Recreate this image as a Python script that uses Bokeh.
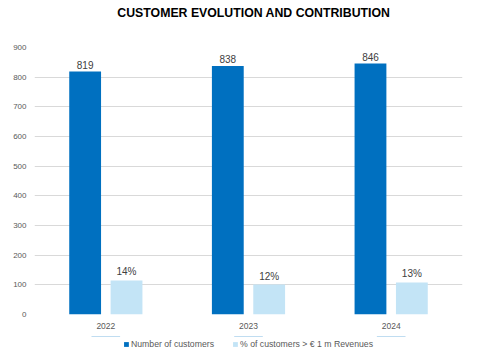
from bokeh.plotting import figure
from bokeh.layouts import column
from bokeh.models import (ColumnDataSource, FactorRange, Range1d, Legend, LegendItem, LabelSet,
                          Label, SingleIntervalTicker)
from bokeh.core.properties import value
from bokeh.transform import dodge
from bokeh.embed import file_html
from bokeh.resources import INLINE

title_text = "CUSTOMER EVOLUTION AND CONTRIBUTION"
years = ["2022", "2023", "2024"]
customers = [819, 838, 846]
customers_above_1m = [115, 101, 108]
pct_labels = ["14%", "12%", "13%"]
customer_labels = [str(v) for v in customers]
series_names = ["Number of customers", "% of customers > € 1 m Revenues"]

DARK = "#0070C0"
LIGHT = "#C3E4F6"
FONT = "Liberation Sans"


def strip(height):
    f = figure(width=480, height=height, x_range=Range1d(0, 480), y_range=Range1d(0, height),
               output_backend="svg", toolbar_location=None,
               min_border_left=0, min_border_right=0, min_border_top=0, min_border_bottom=0)
    f.axis.visible = False
    f.grid.visible = False
    f.outline_line_color = None
    return f


# title strip
top = strip(41)
top.add_layout(Label(x=246, y=29, text=title_text, text_align="center", text_baseline="middle",
                     text_font=FONT, text_font_size="12.3px", text_font_style="bold",
                     text_color="#000000"))

src = ColumnDataSource(dict(year=years, cust=customers, big=customers_above_1m,
                            pct=pct_labels, clab=customer_labels))

p = figure(width=480, height=295, x_range=FactorRange(factors=years), y_range=Range1d(0, 900),
           output_backend="svg", toolbar_location=None,
           min_border_left=34, min_border_right=6, min_border_top=6, min_border_bottom=22)

r1 = p.vbar(x=dodge("year", -0.145, range=p.x_range), top="cust", width=0.223, source=src,
            fill_color=DARK, line_color=None)
r2 = p.vbar(x=dodge("year", 0.145, range=p.x_range), top="big", width=0.223, source=src,
            fill_color=LIGHT, line_color=None)

lab1 = LabelSet(x=dodge("year", -0.145, range=p.x_range), y="cust", text="clab", source=src,
                text_align="center", y_offset=3, text_font=value(FONT), text_font_size="10px",
                text_color="#404040")
lab2 = LabelSet(x=dodge("year", 0.145, range=p.x_range), y="big", text="pct", source=src,
                text_align="center", y_offset=3, text_font=value(FONT), text_font_size="10px",
                text_color="#404040")
p.add_layout(lab1)
p.add_layout(lab2)

p.xgrid.grid_line_color = None
p.ygrid.grid_line_color = "#D9D9D9"
p.ygrid.grid_line_width = 1
p.yaxis.ticker = SingleIntervalTicker(interval=100)
for ax in (p.xaxis[0], p.yaxis[0]):
    ax.axis_line_color = None
    ax.major_tick_line_color = None
    ax.minor_tick_line_color = None
    ax.major_tick_out = 0
    ax.minor_tick_out = 0
    ax.major_label_text_font = FONT
    ax.major_label_text_font_size = "8px"
    ax.major_label_text_color = "#595959"
p.yaxis.major_label_standoff = 8
p.xaxis.major_label_standoff = 8
p.xaxis.major_label_text_font_size = "8.5px"
p.outline_line_color = None

# legend strip below the chart (bars lie far outside its visible range; only the legend shows)
lg = figure(width=480, height=16, x_range=FactorRange(factors=years), y_range=Range1d(-100, -50),
            output_backend="svg", toolbar_location=None,
            min_border_left=0, min_border_right=18, min_border_top=0, min_border_bottom=0)
lg.axis.visible = False
lg.grid.visible = False
lg.outline_line_color = None
g1 = lg.vbar(x="year", top="cust", width=0.2, source=src, fill_color=DARK, line_color=None)
g2 = lg.vbar(x="year", top="big", width=0.2, source=src, fill_color=LIGHT, line_color=None)
legend = Legend(items=[LegendItem(label=series_names[0], renderers=[g1]),
                       LegendItem(label=series_names[1], renderers=[g2])],
                orientation="horizontal", location="center",
                label_text_font=FONT, label_text_font_size="8.7px", label_text_color="#595959",
                glyph_width=6, glyph_height=6, label_standoff=2, spacing=18,
                label_height=8, padding=1, margin=0, border_line_color=None,
                background_fill_alpha=0)
lg.add_layout(legend)

layout = column(top, p, lg, spacing=0)
open("out.html", "w", encoding="utf-8").write(file_html(layout, INLINE))
